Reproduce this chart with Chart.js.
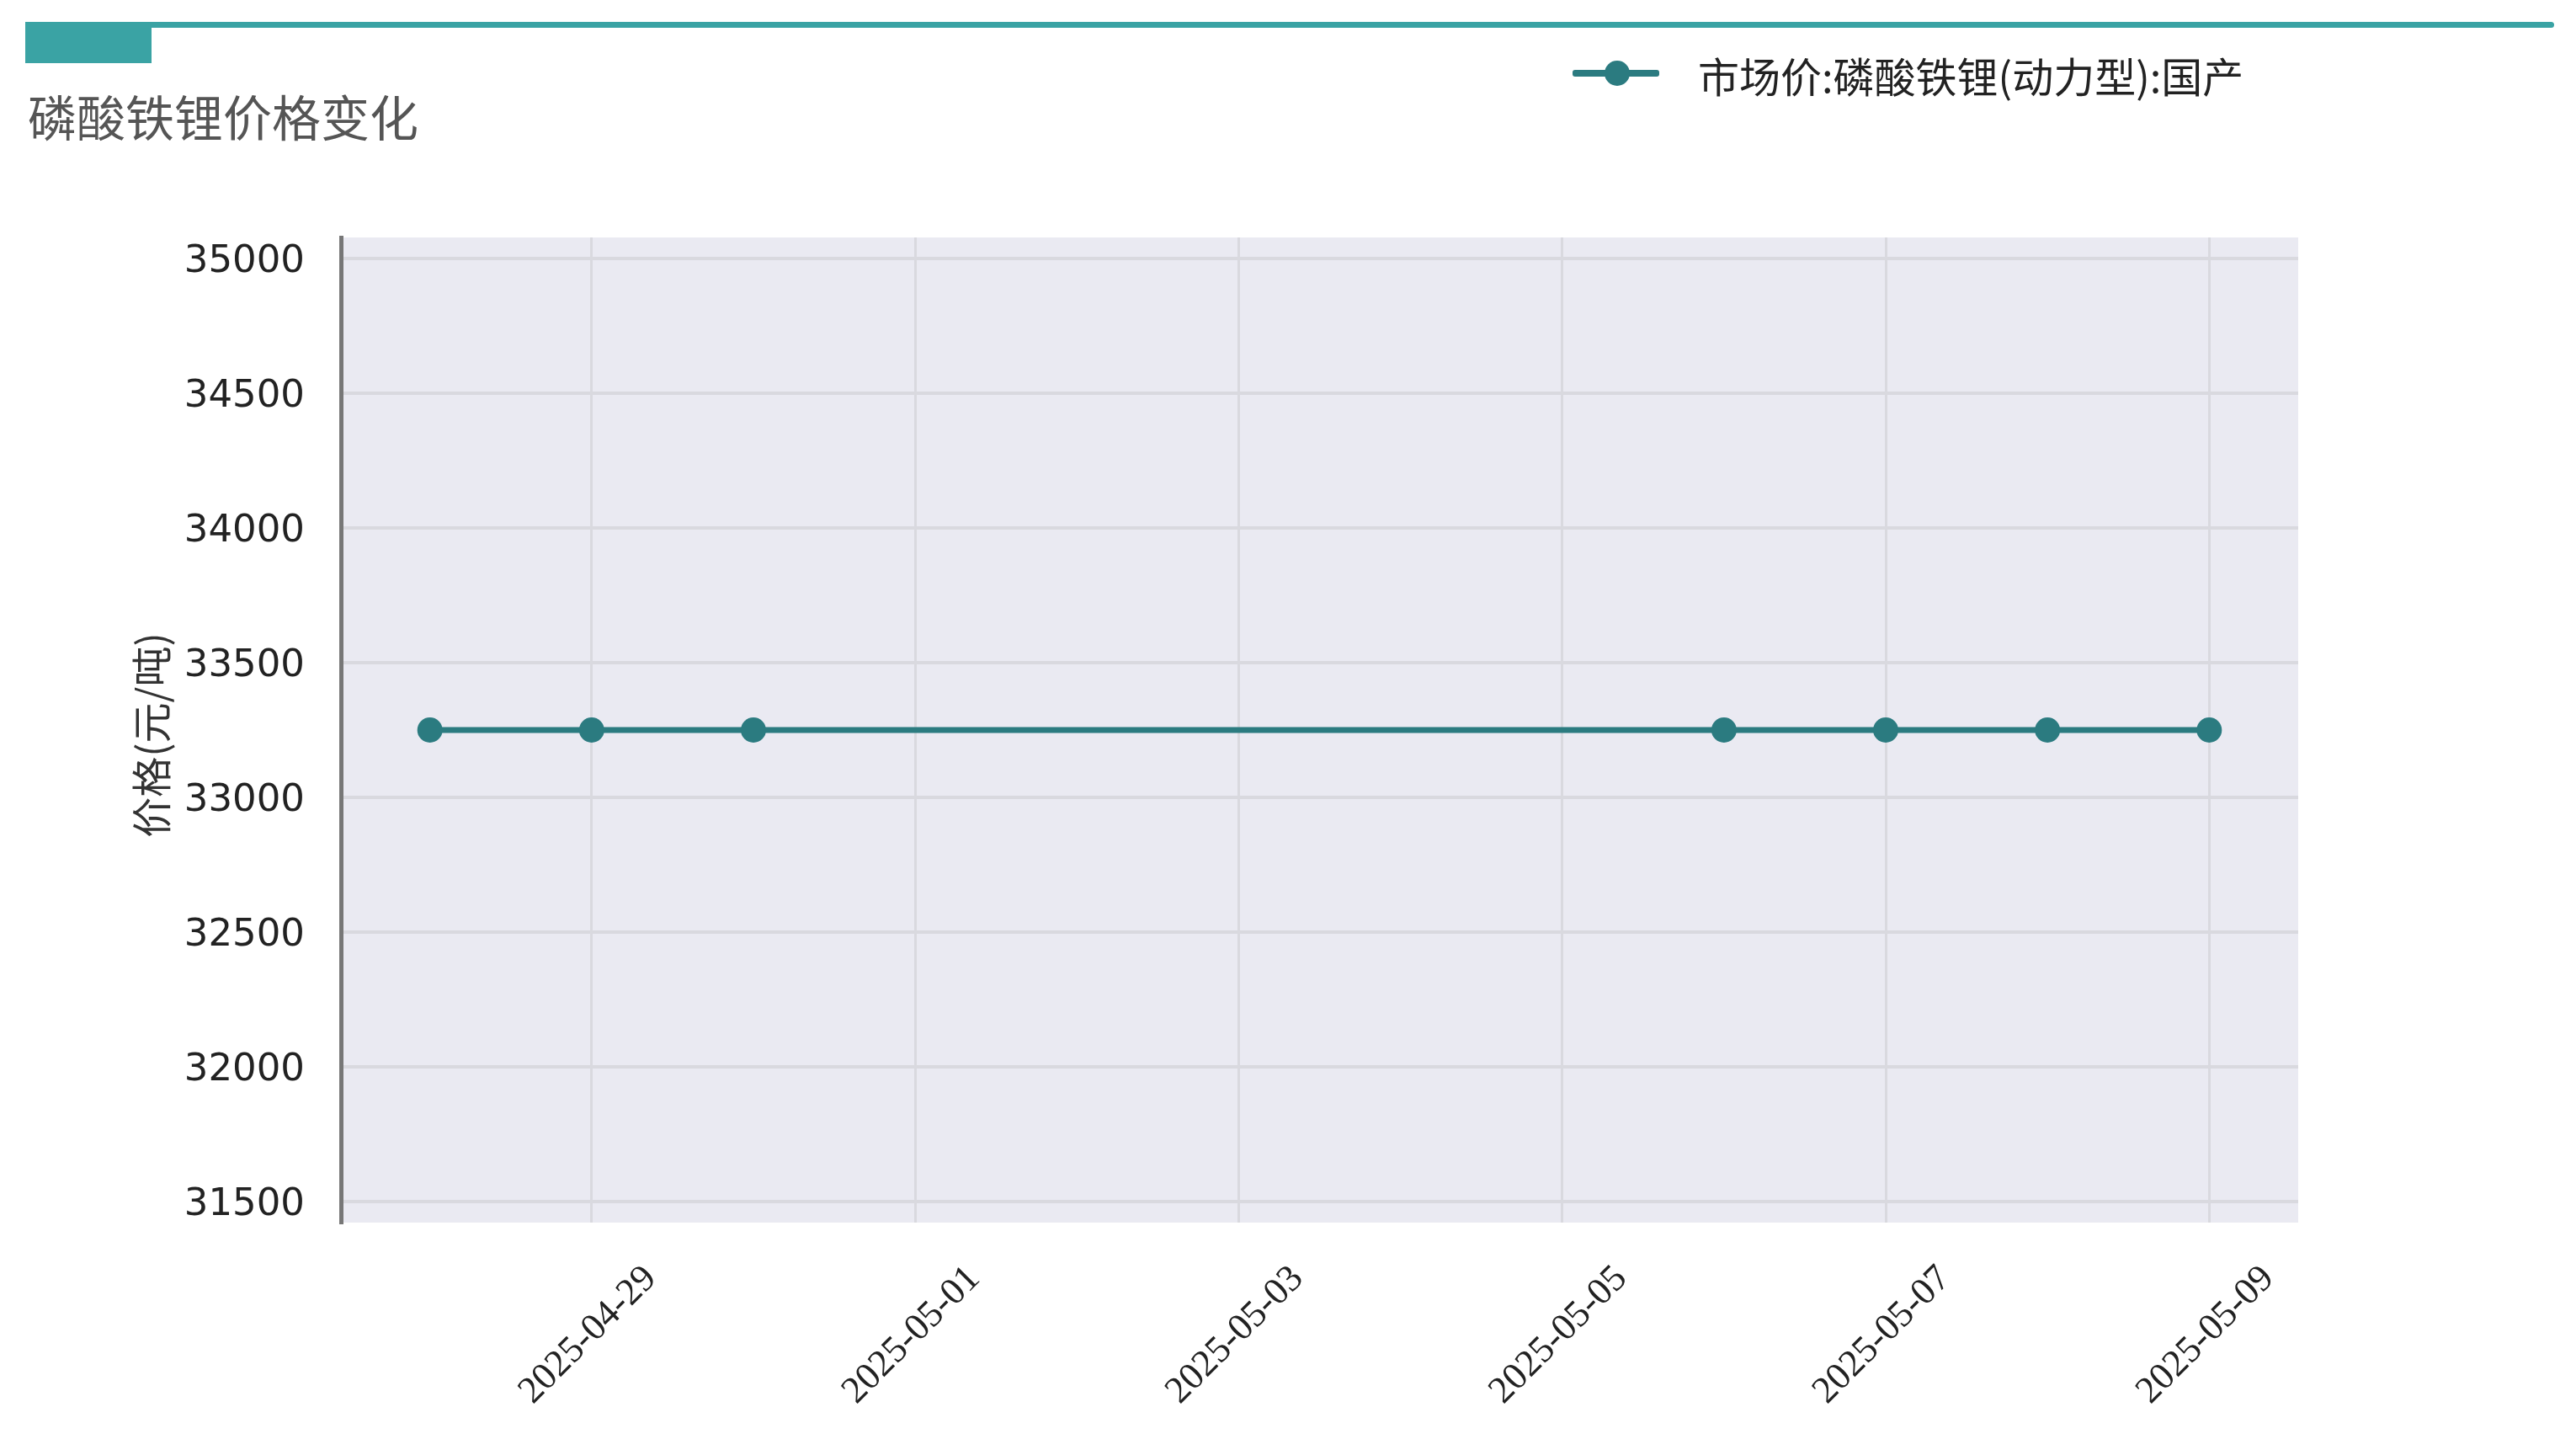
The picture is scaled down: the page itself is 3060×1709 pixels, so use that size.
<!DOCTYPE html>
<html>
<head>
<meta charset="utf-8">
<script src="https://cdn.jsdelivr.net/npm/chart.js@4.4.1/dist/chart.umd.min.js"></script>
<style>
  body { margin: 0; background: #fff; width: 3060px; height: 1709px; position: relative; overflow: hidden; }
  .bar { position: absolute; left: 30px; top: 26px; width: 3004px; height: 7px; border-radius: 4px; background: #3aa3a4; }
  .block { position: absolute; left: 30px; top: 26px; width: 150px; height: 49px; background: #3aa3a4; }
  .title { position: absolute; left: 33px; top: 108px; font: 58px/1 "Noto Sans CJK SC", sans-serif; color: #555; white-space: nowrap; }
  .legend-line { position: absolute; left: 1868px; top: 83px; width: 103px; height: 8px; border-radius: 3px; background: #2b7b80; }
  .legend-dot { position: absolute; left: 1906px; top: 72px; width: 30px; height: 30px; border-radius: 50%; background: #2b7b80; }
  .legend-text { position: absolute; left: 2017px; top: 64px; font: 49px/1 "Noto Sans CJK SC", sans-serif; color: #222; white-space: nowrap; }
  #wrap { position: absolute; left: 0; top: 0; width: 3060px; height: 1709px; }
</style>
</head>
<body>
<div class="bar"></div>
<div class="block"></div>
<div class="title">磷酸铁锂价格变化</div>
<div class="legend-line"></div>
<div class="legend-dot"></div>
<div class="legend-text">市场价:磷酸铁锂(动力型):国产</div>
<div id="wrap"><canvas id="chart" width="3060" height="1709" style="width:3060px;height:1709px"></canvas></div>

<script>
// data
var dates = ["2025-04-28", "2025-04-29", "2025-04-30", "2025-05-06", "2025-05-07", "2025-05-08", "2025-05-09"];
var prices = [33250, 33250, 33250, 33250, 33250, 33250, 33250];
var xTickLabels = ["2025-04-29", "2025-05-01", "2025-05-03", "2025-05-05", "2025-05-07", "2025-05-09"];
var yTickValues = [31500, 32000, 32500, 33000, 33500, 34000, 34500, 35000];
var seriesName = "市场价:磷酸铁锂(动力型):国产";
var yTitle = "价格(元/吨)";

var baseDate = dates[0];
function dayNum(d) {
  return (Date.parse(d) - Date.parse(baseDate)) / 86400000;
}

var points = dates.map(function (d, i) { return { x: dayNum(d), y: prices[i] }; });

var plotStyle = {
  id: 'plotStyle',
  beforeDraw: function (chart) {
    var a = chart.chartArea, ctx = chart.ctx;
    ctx.save();
    ctx.fillStyle = '#eaeaf2';
    ctx.fillRect(a.left, a.top, a.right - a.left, a.bottom - a.top);
    ctx.restore();
  },
  afterDraw: function (chart) {
    var ctx = chart.ctx, xs = chart.scales.x, a = chart.chartArea;
    ctx.save();
    ctx.fillStyle = '#222';
    ctx.font = '45px "Liberation Serif", serif';
    ctx.textAlign = 'center';
    ctx.textBaseline = 'middle';
    xs.ticks.forEach(function (t, i) {
      var px = xs.getPixelForValue(t.value);
      ctx.save();
      ctx.translate(px - 4, a.bottom + 134);
      ctx.rotate(-Math.PI / 4);
      ctx.fillText(xTickLabels[i], 0, 0);
      ctx.restore();
    });
    // y axis title
    ctx.fillStyle = '#333';
    ctx.font = '48px "Noto Sans CJK SC", sans-serif';
    ctx.translate(180, (a.top + a.bottom) / 2 + 6);
    ctx.rotate(-Math.PI / 2);
    ctx.fillText(yTitle, 0, 0);
    ctx.restore();
  }
};

new Chart(document.getElementById('chart'), {
  type: 'line',
  data: {
    datasets: [{
      label: seriesName,
      data: points,
      borderColor: '#2b7b80',
      backgroundColor: '#2b7b80',
      borderWidth: 7,
      pointRadius: 15,
      pointHoverRadius: 15,
      pointBorderWidth: 0,
      tension: 0
    }]
  },
  options: {
    responsive: false,
    animation: false,
    layout: { padding: { left: 0, top: 282, right: 330, bottom: 257 } },
    plugins: {
      legend: { display: false },
      title: { display: false },
      tooltip: { enabled: false }
    },
    scales: {
      x: {
        type: 'linear',
        min: -0.55,
        max: 11.55,
        afterBuildTicks: function (scale) {
          scale.ticks = xTickLabels.map(function (d) { return { value: dayNum(d) }; });
        },
        afterFit: function (scale) { scale.height = 0; },
        ticks: { display: false },
        grid: { color: '#d9d9df', lineWidth: 3, drawTicks: false },
        border: { display: false }
      },
      y: {
        min: 31422,
        max: 35078,
        afterBuildTicks: function (scale) {
          scale.ticks = yTickValues.map(function (v) { return { value: v }; });
        },
        afterFit: function (scale) { scale.width = 405; },
        ticks: {
          padding: 43,
          labelOffset: 4,
          color: '#222',
          font: { family: '"DejaVu Sans", sans-serif', size: 45 },
          callback: function (v) { return String(v); }
        },
        grid: { color: '#d9d9df', lineWidth: 4, drawTicks: false },
        border: { display: true, color: '#777', width: 5 }
      }
    }
  },
  plugins: [plotStyle]
});
</script>
</body>
</html>
